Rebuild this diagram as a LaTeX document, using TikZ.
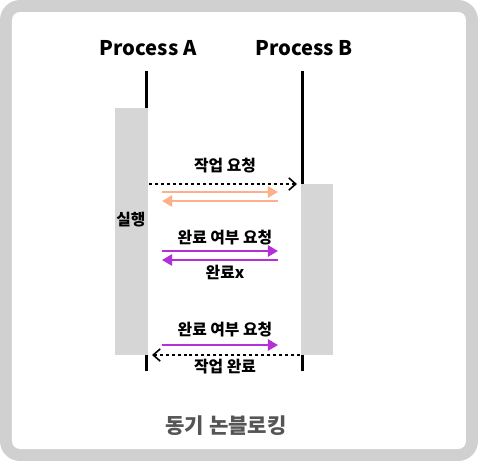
\documentclass[tikz,border=0pt]{standalone}
\usepackage{fontspec}
\setmainfont{Noto Sans CJK KR}
\usepackage{xcolor}
\usepackage{tikz}
\usetikzlibrary{arrows.meta}
\definecolor{frame_grey}{HTML}{D0D0D0}
\definecolor{box_grey}{HTML}{D6D6D6}
\definecolor{poll_orange}{HTML}{FFB088}
\definecolor{poll_purple}{HTML}{B52FD6}
\definecolor{title_grey}{HTML}{555555}
\tikzset{ proc_label/.style = {font=\bfseries\fontsize{11.5}{13}\selectfont, inner sep=0pt} }
\tikzset{ msg_label/.style = {font=\bfseries\fontsize{9}{10}\selectfont, inner sep=0pt} }
\tikzset{ life_line/.style = {line width=1.7pt} }
\tikzset{ act_box/.style = {fill=box_grey, draw=none} }
\tikzset{ call_arrow/.style = {line width=0.85pt, dash pattern=on 1.7pt off 1.7pt, -{Straight Barb[length=4pt, width=7pt, line width=0.9pt]}} }
\tikzset{ poll_arrow/.style = {line width=1.4pt, -{Triangle[length=5.8pt, width=6.4pt]}} }

\begin{document}
\begin{tikzpicture}[x=0.02cm, y=-0.02cm]
            % frame
            \fill[frame_grey, rounded corners=0.4cm] (0,0) rectangle (478,461);
            \fill[white, rounded corners=0.16cm] (12,12) rectangle (466,449);
            % processes
            \node[proc_label] (pa) at (148,48) {Process A};
            \node[proc_label] (pb) at (304,48) {Process B};
            \coordinate (a_top) at (146.5,71);
            \coordinate (a_bot) at (146.5,371);
            \coordinate (b_top) at (302.5,71);
            \coordinate (b_bot) at (302.5,371);
            \draw[life_line] (a_top) -- (a_bot);
            \draw[life_line] (b_top) -- (b_bot);
            \fill[act_box] (115,108) rectangle (148,355);
            \fill[act_box] (301,184) rectangle (333,355);
            \node[msg_label] (run) at (131,220) {실행};
            % messages
            \coordinate (c1s) at (149,184);
            \coordinate (c1e) at (297,184);
            \draw[call_arrow] (c1s) to (c1e);
            \node[msg_label] (l1) at (225,166) {작업 요청};
            \coordinate (o1s) at (162,192);
            \coordinate (o1e) at (278,192);
            \draw[poll_arrow, poll_orange] (o1s) to (o1e);
            \coordinate (o2s) at (278,201);
            \coordinate (o2e) at (162,201);
            \draw[poll_arrow, poll_orange] (o2s) to (o2e);
            \node[msg_label] (l2) at (225,238) {완료 여부 요청};
            \coordinate (p1s) at (162,251);
            \coordinate (p1e) at (278,251);
            \draw[poll_arrow, poll_purple] (p1s) to (p1e);
            \coordinate (p2s) at (278,260);
            \coordinate (p2e) at (162,260);
            \draw[poll_arrow, poll_purple] (p2s) to (p2e);
            \node[msg_label] (l3) at (225,272) {완료x};
            \node[msg_label] (l4) at (225,330) {완료 여부 요청};
            \coordinate (p3s) at (162,345);
            \coordinate (p3e) at (278,345);
            \draw[poll_arrow, poll_purple] (p3s) to (p3e);
            \coordinate (c2s) at (300,355);
            \coordinate (c2e) at (152,355);
            \draw[call_arrow] (c2s) to (c2e);
            \node[msg_label] (l5) at (225,367) {작업 완료};
            % title
            \node[font=\bfseries\fontsize{12}{14}\selectfont, text=title_grey, inner sep=0pt] (title) at (226,426) {동기 논블로킹};
        \end{tikzpicture}
\end{document}
